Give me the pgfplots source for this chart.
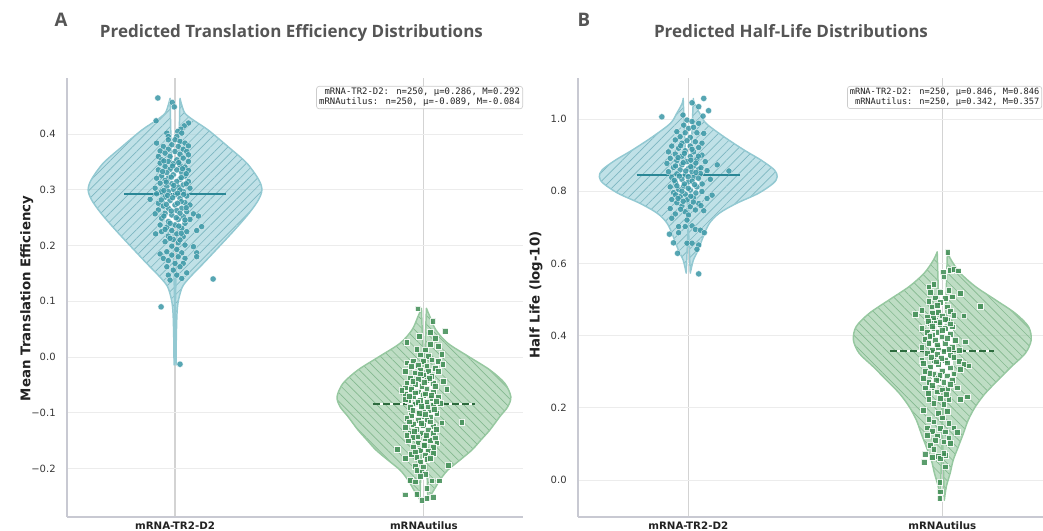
\documentclass[border=0pt]{standalone}
\usepackage{fontspec}
\setmainfont{DejaVu Sans}
\newfontfamily\titlefont{Open Sans}
\newfontfamily\monofont{DejaVu Sans Mono}
\usepackage{pgfplots}
\pgfplotsset{compat=1.18}
\usepackage{pgfplotstable}
\usepgfplotslibrary{fillbetween}
\usetikzlibrary{patterns.meta}

\definecolor{tealfill}{HTML}{8CC8D3}
\definecolor{tealhatch}{HTML}{7DB7C1}
\definecolor{tealedge}{HTML}{93C9D2}
\definecolor{tealpt}{HTML}{3A97A6}
\definecolor{tealmed}{HTML}{2A8796}
\definecolor{greenfill}{HTML}{89C194}
\definecolor{greenhatch}{HTML}{84B98F}
\definecolor{greenedge}{HTML}{96C8A0}
\definecolor{greenpt}{HTML}{3E8C53}
\definecolor{greenmed}{HTML}{2D6B3E}
\definecolor{spinecol}{HTML}{C8C9D2}
\definecolor{hgridcol}{HTML}{ECECEC}
\definecolor{vgridcol}{HTML}{D3D3D3}
\definecolor{labelcol}{HTML}{222222}
\definecolor{tickcol}{HTML}{383838}
\definecolor{titlecol}{HTML}{555555}
\definecolor{boxcol}{HTML}{CCCCCC}

% violin outlines: y, half-width
\pgfplotstableread{
y w
0.4644 0.020
0.4524 0.027
0.4375 0.040
0.4255 0.073
0.4075 0.133
0.3776 0.213
0.3477 0.289
0.3178 0.337
0.2998 0.349
0.2819 0.335
0.2579 0.297
0.2280 0.239
0.1981 0.177
0.1682 0.114
0.1442 0.062
0.1263 0.030
0.1023 0.014
0.0784 0.008
0.0305 0.005
-0.0144 0.004
}\vAa
\pgfplotstableread{
y w
0.0874 0.010
0.0724 0.024
0.0485 0.048
0.0246 0.096
0.0006 0.180
-0.0233 0.265
-0.0473 0.325
-0.0712 0.349
-0.0892 0.337
-0.1070 0.305
-0.1310 0.265
-0.1490 0.229
-0.1669 0.193
-0.1850 0.145
-0.2030 0.096
-0.2210 0.064
-0.2390 0.040
-0.2560 0.016
}\vAb
\pgfplotstableread{
y w
1.057 0.020
1.043 0.024
1.016 0.045
0.988 0.070
0.951 0.140
0.914 0.220
0.886 0.287
0.859 0.339
0.840 0.350
0.822 0.335
0.794 0.276
0.766 0.189
0.739 0.122
0.711 0.083
0.674 0.059
0.637 0.039
0.609 0.020
0.573 0.008
}\vBa
\pgfplotstableread{
y w
0.632 0.020
0.609 0.035
0.573 0.071
0.536 0.130
0.499 0.209
0.462 0.287
0.425 0.339
0.388 0.350
0.351 0.327
0.314 0.272
0.277 0.220
0.240 0.169
0.203 0.130
0.166 0.102
0.129 0.083
0.092 0.063
0.055 0.043
0.019 0.031
-0.018 0.016
-0.056 0.008
}\vBb

% jittered points
\pgfplotstableread{
x y
-0.069 0.465
-0.076 0.424
0.153 0.140
-0.056 0.090
0.020 -0.013
-0.011 0.457
-0.003 0.449
0.054 0.420
0.037 0.415
0.023 0.409
0.011 0.405
-0.033 0.402
0.027 0.402
0.007 0.396
-0.027 0.396
-0.027 0.390
0.000 0.390
0.020 0.387
0.040 0.384
-0.074 0.384
-0.013 0.381
-0.047 0.378
0.013 0.378
0.054 0.379
-0.027 0.373
0.033 0.373
-0.060 0.370
0.000 0.369
0.047 0.369
-0.040 0.366
0.020 0.364
-0.020 0.360
0.054 0.363
-0.067 0.360
-0.054 0.354
0.007 0.354
0.033 0.357
-0.027 0.351
0.054 0.351
-0.060 0.348
-0.007 0.347
0.020 0.345
-0.040 0.342
0.040 0.341
-0.020 0.337
0.007 0.336
-0.067 0.336
0.054 0.335
-0.033 0.331
0.027 0.331
-0.054 0.325
-0.007 0.327
0.040 0.325
-0.074 0.321
-0.027 0.321
0.020 0.319
-0.040 0.317
0.007 0.315
0.054 0.315
-0.060 0.312
-0.013 0.311
0.033 0.309
-0.033 0.306
0.013 0.305
-0.080 0.303
0.060 0.303
-0.007 0.301
-0.054 0.297
-0.027 0.297
0.033 0.297
-0.074 0.293
0.000 0.291
0.047 0.289
-0.040 0.287
0.020 0.285
-0.100 0.283
-0.020 0.281
-0.067 0.276
0.040 0.277
0.000 0.273
-0.047 0.271
0.060 0.273
-0.027 0.267
0.027 0.267
-0.067 0.264
0.007 0.263
0.047 0.261
-0.040 0.258
0.074 0.257
-0.013 0.255
-0.080 0.257
0.033 0.252
-0.054 0.249
0.013 0.247
0.060 0.247
-0.027 0.243
0.094 0.253
-0.060 0.237
0.000 0.237
0.040 0.240
-0.033 0.233
0.027 0.231
0.107 0.234
-0.013 0.227
-0.054 0.225
0.047 0.225
0.087 0.227
0.007 0.221
-0.027 0.217
0.033 0.216
-0.078 0.221
-0.007 0.211
-0.040 0.207
0.013 0.205
0.040 0.201
-0.013 0.199
0.074 0.198
0.007 0.193
-0.033 0.189
0.027 0.187
0.087 0.187
-0.060 0.185
-0.013 0.183
0.013 0.180
-0.047 0.177
0.040 0.177
-0.027 0.173
0.000 0.168
0.033 0.168
0.087 0.180
-0.033 0.162
0.020 0.162
-0.007 0.156
0.047 0.151
-0.027 0.147
0.007 0.147
-0.020 0.138
0.027 0.141
-0.045 0.352
0.015 0.349
-0.010 0.343
0.030 0.338
-0.050 0.333
0.045 0.329
-0.015 0.323
0.025 0.322
-0.035 0.314
0.045 0.311
-0.005 0.308
0.020 0.300
-0.045 0.299
0.010 0.294
-0.030 0.290
0.035 0.292
-0.010 0.286
-0.055 0.282
0.025 0.279
0.010 0.276
-0.035 0.274
0.045 0.268
-0.015 0.262
0.020 0.258
-0.045 0.253
0.005 0.250
0.040 0.246
-0.020 0.240
0.015 0.235
-0.040 0.229
0.025 0.222
-0.020 0.213
0.020 0.210
}\pAa
\pgfplotstableread{
x y
0.975 0.087
1.035 0.065
1.084 0.047
1.024 0.044
0.981 0.037
0.930 0.026
1.044 0.034
1.024 0.023
1.058 0.020
0.971 0.014
1.004 0.013
1.071 0.005
0.984 0.004
1.017 0.002
0.930 -0.010
0.957 -0.008
0.997 -0.007
1.031 -0.005
1.058 -0.008
0.977 -0.014
1.011 -0.016
1.075 -0.013
0.950 -0.017
1.044 -0.020
0.984 -0.023
1.017 -0.025
0.924 -0.026
0.964 -0.028
1.058 -0.026
0.997 -0.032
1.031 -0.034
0.944 -0.037
0.977 -0.040
1.011 -0.041
1.078 -0.044
0.930 -0.046
0.964 -0.049
1.037 -0.047
0.991 -0.052
1.091 -0.058
0.924 -0.055
0.950 -0.058
1.011 -0.058
0.977 -0.062
1.037 -0.062
0.924 -0.067
0.997 -0.068
0.957 -0.071
1.058 -0.071
1.024 -0.074
0.937 -0.077
0.984 -0.078
1.011 -0.080
1.064 -0.083
0.964 -0.084
1.037 -0.086
0.924 -0.076
0.910 -0.059
0.944 -0.090
0.997 -0.092
1.024 -0.095
0.971 -0.098
1.051 -0.101
0.950 -0.104
0.991 -0.106
1.024 -0.108
0.930 -0.110
0.977 -0.113
1.011 -0.114
1.071 -0.118
1.151 -0.117
0.957 -0.120
0.997 -0.122
1.037 -0.124
0.924 -0.126
0.971 -0.130
1.017 -0.131
0.944 -0.136
0.991 -0.137
1.037 -0.137
0.957 -0.144
1.004 -0.146
1.024 -0.149
0.937 -0.150
0.977 -0.154
1.051 -0.154
0.997 -0.158
0.957 -0.161
1.037 -0.162
0.893 -0.166
0.984 -0.167
1.017 -0.168
0.950 -0.174
1.004 -0.176
1.037 -0.173
0.971 -0.180
0.924 -0.182
1.011 -0.184
0.984 -0.188
1.098 -0.194
0.964 -0.196
0.997 -0.197
0.971 -0.203
0.991 -0.206
1.004 -0.210
0.944 -0.221
0.964 -0.224
1.031 -0.222
1.062 -0.222
1.011 -0.236
0.924 -0.247
0.971 -0.246
1.037 -0.251
1.011 -0.254
0.991 -0.257
0.985 -0.030
1.020 -0.038
0.955 -0.043
1.000 -0.045
1.045 -0.052
0.965 -0.064
1.005 -0.066
0.940 -0.070
1.030 -0.069
0.975 -0.081
1.050 -0.079
0.990 -0.088
1.015 -0.089
0.955 -0.096
1.040 -0.094
0.980 -0.101
1.005 -0.103
0.940 -0.116
1.025 -0.116
0.990 -0.119
1.050 -0.129
0.960 -0.133
1.010 -0.140
0.975 -0.143
1.045 -0.145
0.930 -0.140
1.000 -0.158
0.965 -0.170
1.025 -0.181
0.985 -0.214
}\pAb
\pgfplotstableread{
x y
0.061 1.057
0.015 1.045
0.041 1.034
0.080 1.023
-0.104 1.006
-0.021 1.011
0.058 1.008
-0.005 0.997
0.015 0.993
0.041 0.988
-0.018 0.983
0.001 0.974
0.021 0.977
-0.045 0.965
-0.012 0.962
0.034 0.962
0.061 0.960
-0.032 0.951
0.008 0.949
-0.051 0.942
-0.005 0.940
0.028 0.937
0.054 0.933
-0.025 0.933
-0.065 0.925
0.008 0.925
-0.038 0.919
0.041 0.921
-0.078 0.909
-0.012 0.912
0.021 0.909
-0.051 0.903
0.054 0.900
-0.025 0.897
0.008 0.896
-0.071 0.891
0.034 0.888
-0.045 0.885
-0.005 0.882
-0.084 0.877
0.067 0.882
-0.025 0.873
0.021 0.870
-0.058 0.866
0.001 0.863
0.114 0.873
0.041 0.861
-0.032 0.859
-0.078 0.854
0.015 0.854
0.074 0.857
-0.045 0.848
-0.012 0.845
0.048 0.849
0.160 0.856
-0.065 0.838
0.021 0.838
-0.025 0.833
0.087 0.833
0.001 0.826
-0.051 0.824
-0.071 0.812
-0.018 0.814
0.034 0.812
-0.038 0.805
0.008 0.803
-0.058 0.796
0.054 0.799
-0.012 0.792
0.094 0.789
-0.032 0.785
0.021 0.783
-0.065 0.777
0.074 0.780
-0.005 0.776
-0.045 0.768
0.041 0.766
-0.025 0.759
0.008 0.757
-0.071 0.752
0.028 0.748
-0.012 0.743
0.061 0.746
-0.051 0.737
0.001 0.734
-0.065 0.725
-0.005 0.720
-0.038 0.702
-0.012 0.702
0.015 0.704
0.028 0.694
0.048 0.692
0.063 0.685
-0.074 0.681
-0.038 0.685
-0.058 0.657
-0.005 0.656
0.015 0.656
0.041 0.651
0.034 0.639
-0.042 0.628
0.041 0.571
-0.030 0.926
0.015 0.916
-0.015 0.905
0.040 0.897
-0.040 0.893
0.010 0.886
0.030 0.878
-0.020 0.879
-0.050 0.870
0.010 0.868
0.050 0.865
-0.010 0.856
0.030 0.852
-0.035 0.842
0.000 0.840
0.040 0.836
-0.055 0.830
0.015 0.828
-0.015 0.820
0.025 0.818
-0.045 0.815
0.055 0.820
0.000 0.808
-0.025 0.800
0.030 0.795
-0.050 0.790
0.010 0.786
-0.020 0.772
0.020 0.770
-0.040 0.780
0.050 0.760
-0.030 0.750
}\pBa
\pgfplotstableread{
x y
1.021 0.631
1.003 0.575
1.032 0.582
1.045 0.585
1.061 0.580
1.005 0.563
0.966 0.542
0.946 0.536
0.952 0.520
0.992 0.520
1.025 0.526
1.071 0.517
0.972 0.505
1.012 0.503
1.038 0.508
0.946 0.496
0.992 0.492
0.959 0.480
0.979 0.485
1.018 0.480
1.150 0.482
0.893 0.459
0.919 0.471
0.985 0.466
1.032 0.468
0.959 0.462
0.939 0.452
0.999 0.455
1.045 0.457
1.084 0.455
0.972 0.443
1.018 0.443
0.952 0.434
0.992 0.431
0.919 0.420
0.966 0.420
1.012 0.420
1.038 0.425
0.939 0.409
0.985 0.409
0.959 0.402
1.032 0.404
0.999 0.397
0.933 0.391
0.972 0.388
1.051 0.388
1.091 0.383
0.946 0.379
1.012 0.379
0.919 0.369
0.985 0.369
1.038 0.369
0.959 0.360
1.065 0.360
1.005 0.356
0.939 0.351
0.979 0.348
1.032 0.346
0.919 0.332
0.966 0.332
1.012 0.332
1.065 0.330
1.084 0.320
1.104 0.317
0.926 0.323
0.985 0.320
0.952 0.314
1.032 0.311
0.933 0.302
0.999 0.302
1.071 0.308
0.966 0.293
1.018 0.289
0.926 0.283
0.985 0.282
1.038 0.277
0.946 0.271
1.005 0.271
1.058 0.256
0.933 0.256
0.966 0.256
1.018 0.252
1.098 0.231
0.979 0.245
0.946 0.224
0.992 0.226
1.025 0.224
1.071 0.224
0.966 0.212
1.005 0.210
0.926 0.194
1.018 0.191
0.985 0.185
0.946 0.169
0.999 0.173
0.966 0.162
1.025 0.157
0.939 0.145
0.992 0.143
1.045 0.145
0.959 0.136
1.012 0.134
1.058 0.132
0.939 0.125
0.979 0.123
1.025 0.117
0.972 0.111
1.005 0.106
0.952 0.097
1.032 0.102
0.933 0.071
0.966 0.086
0.985 0.067
1.012 0.069
0.959 0.064
0.992 0.060
1.005 0.074
0.929 0.049
1.012 0.037
0.989 -0.006
0.992 -0.032
0.989 -0.051
0.965 0.450
1.010 0.446
0.945 0.440
0.990 0.437
1.030 0.433
0.960 0.426
1.000 0.415
0.950 0.398
1.020 0.393
0.980 0.375
1.025 0.362
0.955 0.340
0.995 0.338
1.045 0.340
0.975 0.328
1.020 0.325
0.950 0.296
0.990 0.290
1.045 0.295
0.975 0.276
1.030 0.266
0.960 0.262
1.000 0.250
0.945 0.240
1.015 0.238
}\pBb

\pgfplotsset{
  panel/.style={
    scale only axis, anchor=south west,
    axis x line*=bottom, axis y line*=left,
    axis line style={draw=spinecol, line width=0.8pt},
    major tick length=0pt,
    xtick={0,1}, xticklabels={mRNA-TR2-D2,mRNAutilus},
    xticklabel style={font=\bfseries\fontsize{7.7}{9}\selectfont, text=labelcol},
    yticklabel style={font=\fontsize{7.5}{9}\selectfont, text=tickcol, xshift=-5pt},
    xmajorgrids, ymajorgrids,
    x grid style={draw=vgridcol, line width=0.8pt},
    y grid style={draw=hgridcol, line width=0.6pt},
    xmin=-0.434, height=329.25pt,
  },
  tealpts/.style={only marks, mark=*, mark size=2.35pt,
    mark options={fill=tealpt, draw=white, line width=0.25pt, opacity=0.85}},
  greenpts/.style={only marks, mark=square*, mark size=2.15pt,
    mark options={fill=greenpt, draw=white, line width=0.2pt, opacity=0.85}},
  vfill/.style={fill=#1, fill opacity=0.55, draw=none},
  vhatch/.style 2 args={draw=#1, line width=1.1pt, line join=round,
    pattern={Lines[angle=#2,distance=4.6pt,line width=0.5pt]}},
}

\begin{document}
\begin{tikzpicture}

% ---------------- Panel A ----------------
\begin{axis}[panel, at={(50.25pt,10.5pt)}, width=342pt,
  xmax=1.398, ymin=-0.2873, ymax=0.5009,
  ytick={-0.2,-0.1,0,0.1,0.2,0.3,0.4},
  yticklabels={−0.2,−0.1,0.0,0.1,0.2,0.3,0.4}]
\addplot[draw=none, smooth, name path=LAa] table[x expr=-\thisrow{w}, y=y]{\vAa};
\addplot[draw=none, smooth, name path=RAa] table[x expr=\thisrow{w}, y=y]{\vAa};
\addplot[vfill=tealfill] fill between[of=LAa and RAa];
\addplot[vhatch={tealedge}{45}, pattern color=tealhatch] fill between[of=LAa and RAa];

\addplot[draw=none, smooth, name path=LAb] table[x expr=1-\thisrow{w}, y=y]{\vAb};
\addplot[draw=none, smooth, name path=RAb] table[x expr=1+\thisrow{w}, y=y]{\vAb};
\addplot[vfill=greenfill] fill between[of=LAb and RAb];
\addplot[vhatch={greenedge}{-45}, pattern color=greenhatch] fill between[of=LAb and RAb];

\addplot[fill=white, draw=white, line width=0.4pt] coordinates {(-0.038,0.240) (0.038,0.240) (0.038,0.335) (-0.038,0.335) (-0.038,0.240)};
\addplot[fill=white, draw=white, line width=0.4pt] coordinates {(0.962,-0.135) (1.038,-0.135) (1.038,-0.041) (0.962,-0.041) (0.962,-0.135)};

\addplot[tealpts] table[x=x, y=y]{\pAa};
\addplot[greenpts] table[x=x, y=y]{\pAb};

\addplot[tealmed, line width=1.4pt] coordinates {(-0.203,0.292) (0.203,0.292)};
\addplot[white, line width=1.6pt] coordinates {(0.795,-0.084) (1.205,-0.084)};
\addplot[greenmed, line width=1.6pt, dash pattern=on 5.2pt off 2.2pt] coordinates {(0.795,-0.084) (1.205,-0.084)};
\end{axis}

% ---------------- Panel B ----------------
\begin{axis}[panel, at={(433.5pt,10.5pt)}, width=354pt,
  xmax=1.424, ymin=-0.1025, ymax=1.1136,
  ytick={0,0.2,0.4,0.6,0.8,1.0},
  yticklabels={0.0,0.2,0.4,0.6,0.8,1.0}]
\addplot[draw=none, smooth, name path=LBa] table[x expr=-\thisrow{w}, y=y]{\vBa};
\addplot[draw=none, smooth, name path=RBa] table[x expr=\thisrow{w}, y=y]{\vBa};
\addplot[vfill=tealfill] fill between[of=LBa and RBa];
\addplot[vhatch={tealedge}{45}, pattern color=tealhatch] fill between[of=LBa and RBa];

\addplot[draw=none, smooth, name path=LBb] table[x expr=1-\thisrow{w}, y=y]{\vBb};
\addplot[draw=none, smooth, name path=RBb] table[x expr=1+\thisrow{w}, y=y]{\vBb};
\addplot[vfill=greenfill] fill between[of=LBb and RBb];
\addplot[vhatch={greenedge}{-45}, pattern color=greenhatch] fill between[of=LBb and RBb];

\addplot[fill=white, draw=white, line width=0.4pt] coordinates {(-0.038,0.795) (0.038,0.795) (0.038,0.875) (-0.038,0.875) (-0.038,0.795)};
\addplot[fill=white, draw=white, line width=0.4pt] coordinates {(0.962,0.265) (1.038,0.265) (1.038,0.425) (0.962,0.425) (0.962,0.265)};

\addplot[tealpts] table[x=x, y=y]{\pBa};
\addplot[greenpts] table[x=x, y=y]{\pBb};

\addplot[tealmed, line width=1.4pt] coordinates {(-0.203,0.846) (0.203,0.846)};
\addplot[white, line width=1.6pt] coordinates {(0.796,0.357) (1.204,0.357)};
\addplot[greenmed, line width=1.6pt, dash pattern=on 5.2pt off 2.2pt] coordinates {(0.796,0.357) (1.204,0.357)};
\end{axis}

% ---------------- titles, labels, stats boxes ----------------
\node[anchor=base west, font=\titlefont\bfseries\fontsize{14}{16}\selectfont, text=titlecol] at (37.5pt,378.2pt) {A};
\node[anchor=base west, font=\titlefont\bfseries\fontsize{14}{16}\selectfont, text=titlecol] at (429.75pt,378.2pt) {B};
\node[anchor=base, font=\titlefont\bfseries, text=titlecol, inner sep=0pt] at (218.6pt,369.75pt) {\resizebox{287.25pt}{!}{Predicted Translation Efficiency Distributions}};
\node[anchor=base, font=\titlefont\bfseries, text=titlecol, inner sep=0pt] at (593.25pt,369.75pt) {\resizebox{205.5pt}{!}{Predicted Half-Life Distributions}};
\node[rotate=90, font=\bfseries\fontsize{10}{12}\selectfont, text=labelcol] at (20pt,174.5pt) {Mean Translation Efficiency};
\node[rotate=90, font=\bfseries\fontsize{10}{12}\selectfont, text=labelcol] at (402pt,177pt) {Half Life (log-10)};

\node[anchor=north east, draw=boxcol, line width=0.5pt, rounded corners=2pt, fill=white, fill opacity=0.85, text opacity=1, inner xsep=2pt, inner ysep=1.5pt, align=right, font=\monofont\fontsize{6.7}{7.5}\selectfont, text=labelcol] at (392.25pt,333.75pt) {mRNA-TR2-D2: n=250, μ=0.286, M=0.292\\mRNAutilus: n=250, μ=-0.089, M=-0.084};
\node[anchor=north east, draw=boxcol, line width=0.5pt, rounded corners=2pt, fill=white, fill opacity=0.85, text opacity=1, inner xsep=1.8pt, inner ysep=1.5pt, align=right, font=\monofont\fontsize{6.5}{7.5}\selectfont, text=labelcol] at (781.6pt,333.75pt) {mRNA-TR2-D2: n=250, μ=0.846, M=0.846\\mRNAutilus: n=250, μ=0.342, M=0.357};

\pgfresetboundingbox
\path[use as bounding box] (0,0) rectangle (782.25pt,398.25pt);
\end{tikzpicture}
\end{document}
